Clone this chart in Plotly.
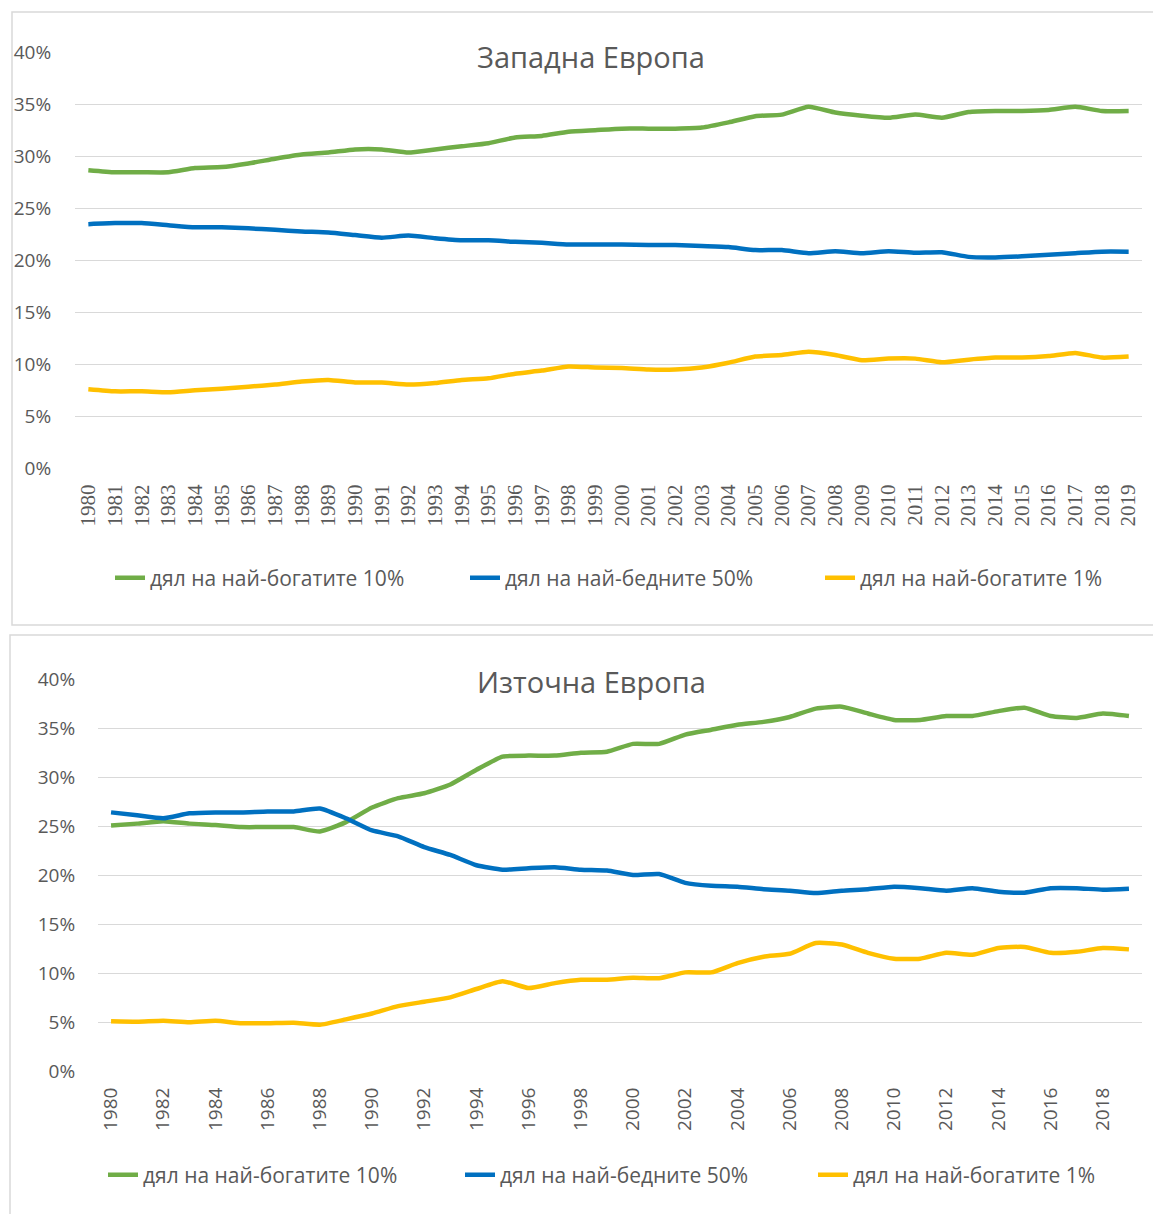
import plotly.graph_objects as go

# Reference image size; the page body adds an 8px margin, so the figure is
# drawn 8px smaller and all reference pixel positions are shifted by 8px.
W, H = 1161, 1214
OFF = 8
FW, FH = W - OFF, H - OFF

years = list(range(1980, 2020))

# Западна Европа (Western Europe), % of national income
west_top10 = [28.7, 28.5, 28.5, 28.5, 28.9, 29.0, 29.35, 29.8, 30.2, 30.4,
              30.7, 30.7, 30.4, 30.7, 31.0, 31.3, 31.85, 32.0, 32.4, 32.55,
              32.7, 32.7, 32.7, 32.8, 33.3, 33.9, 34.05, 34.8, 34.25, 33.95,
              33.75, 34.05, 33.75, 34.3, 34.4, 34.4, 34.5, 34.8, 34.4, 34.4]
west_bottom50 = [23.5, 23.6, 23.6, 23.4, 23.2, 23.2, 23.1, 22.95, 22.8, 22.7,
                 22.45, 22.2, 22.4, 22.15, 21.95, 21.95, 21.8, 21.7, 21.55, 21.55,
                 21.55, 21.5, 21.5, 21.4, 21.3, 21.0, 21.0, 20.7, 20.9, 20.7,
                 20.9, 20.75, 20.8, 20.35, 20.3, 20.4, 20.55, 20.7, 20.85, 20.85]
west_top1 = [7.6, 7.4, 7.4, 7.3, 7.5, 7.65, 7.85, 8.05, 8.35, 8.5,
             8.25, 8.25, 8.05, 8.2, 8.5, 8.65, 9.1, 9.4, 9.8, 9.7,
             9.65, 9.5, 9.5, 9.7, 10.15, 10.75, 10.9, 11.2, 10.9, 10.4,
             10.55, 10.55, 10.2, 10.45, 10.65, 10.65, 10.8, 11.1, 10.65, 10.75]

# Източна Европа (Eastern Europe)
east_top10 = [25.1, 25.3, 25.55, 25.3, 25.15, 24.95, 24.95, 24.95, 24.5, 25.45,
              26.95, 27.9, 28.4, 29.3, 30.8, 32.15, 32.25, 32.25, 32.55, 32.65,
              33.45, 33.45, 34.4, 34.9, 35.4, 35.7, 36.2, 37.05, 37.25, 36.55,
              35.9, 35.9, 36.3, 36.3, 36.8, 37.15, 36.3, 36.1, 36.55, 36.3]
east_bottom50 = [26.45, 26.15, 25.85, 26.35, 26.45, 26.45, 26.55, 26.55, 26.85, 25.85,
                 24.6, 24.0, 22.9, 22.1, 21.05, 20.6, 20.75, 20.85, 20.6, 20.5,
                 20.05, 20.15, 19.25, 18.95, 18.85, 18.6, 18.45, 18.2, 18.45, 18.6,
                 18.85, 18.7, 18.45, 18.7, 18.35, 18.25, 18.7, 18.7, 18.55, 18.65]
east_top1 = [5.1, 5.05, 5.15, 5.0, 5.15, 4.9, 4.9, 4.95, 4.75, 5.3,
             5.9, 6.65, 7.1, 7.55, 8.4, 9.2, 8.5, 9.0, 9.35, 9.35,
             9.55, 9.5, 10.1, 10.1, 11.05, 11.7, 12.0, 13.1, 12.95, 12.1,
             11.5, 11.5, 12.1, 11.9, 12.6, 12.7, 12.1, 12.2, 12.6, 12.45]

series_names = ["дял на най-богатите 10%", "дял на най-бедните 50%", "дял на най-богатите 1%"]
colors = ["#70AD47", "#0070C0", "#FFC000"]
titles = ["Западна Европа", "Източна Европа"]
y_ticks = [0, 5, 10, 15, 20, 25, 30, 35, 40]
y_ticktext = [f"{v}%" for v in y_ticks]

FONT = "Open Sans"
SERIF = "Liberation Serif"
GREY = "#595959"
GRID = "#d9d9d9"


def fx(px):
    return (px - OFF) / FW


def fy(py):
    return 1 - (py - OFF) / FH


fig = go.Figure()

panels = [
    dict(data=[west_top10, west_bottom50, west_top1], xa="x", ya="y",
         legends=["legend", "legend2", "legend3"], leg_x=[110, 465, 820], leg_y=578),
    dict(data=[east_top10, east_bottom50, east_top1], xa="x2", ya="y2",
         legends=["legend4", "legend5", "legend6"], leg_x=[103, 460, 813], leg_y=1175),
]

legend_layout = {}
for p in panels:
    for name, vals, col, lg, lx in zip(series_names, p["data"], colors, p["legends"], p["leg_x"]):
        fig.add_trace(go.Scatter(
            x=years, y=vals, name=name, mode="lines",
            line=dict(color=col, width=4.5, shape="spline", smoothing=0.5),
            xaxis=p["xa"], yaxis=p["ya"], legend=lg,
        ))
        legend_layout[lg] = dict(
            orientation="h", x=fx(lx), xanchor="left", y=fy(p["leg_y"]), yanchor="middle",
            font=dict(family=FONT, size=21, color=GREY), bgcolor="rgba(0,0,0,0)",
        )


def yaxis_def(top, bottom, anchor, standoff):
    return dict(
        domain=[fy(bottom), fy(top)], anchor=anchor,
        range=[-0.08, 40.08], tickmode="array", tickvals=y_ticks, ticktext=y_ticktext,
        showgrid=True, gridcolor=GRID, gridwidth=1, zeroline=False, showline=False,
        tickfont=dict(family=FONT, size=19, color=GREY),
        ticks="outside", ticklen=standoff, tickcolor="rgba(0,0,0,0)",
        fixedrange=True, automargin=False,
    )


def xaxis_def(left, right, anchor, dtick, font, size, standoff):
    return dict(
        domain=[fx(left), fx(right)], anchor=anchor,
        range=[1979.5, 2019.5], tick0=1980, dtick=dtick, showgrid=False, zeroline=False,
        showline=False, tickangle=-90,
        tickfont=dict(family=font, size=size, color=GREY),
        ticks="outside", ticklen=standoff, tickcolor="rgba(0,0,0,0)",
        fixedrange=True, automargin=False,
    )


fig.update_layout(
    width=FW, height=FH,
    margin=dict(l=0, r=0, t=0, b=0, autoexpand=False),
    paper_bgcolor="white", plot_bgcolor="white",
    font=dict(family=FONT, color=GREY),
    xaxis=xaxis_def(75, 1142, "y", 1, SERIF, 21, 6),
    yaxis=yaxis_def(52, 469, "x", 19),
    xaxis2=xaxis_def(98, 1142, "y2", 2, FONT, 19, 7),
    yaxis2=yaxis_def(679, 1072, "x2", 18),
    showlegend=True,
    **legend_layout,
)

# Panel borders
fig.add_shape(type="rect", xref="paper", yref="paper",
              x0=fx(12), x1=1.01, y0=fy(625), y1=fy(12),
              line=dict(color=GRID, width=1.5), layer="below")
fig.add_shape(type="rect", xref="paper", yref="paper",
              x0=fx(10), x1=1.01, y0=-0.01, y1=fy(635),
              line=dict(color=GRID, width=1.5), layer="below")

# Titles
for t, yc in zip(titles, [57, 681]):
    fig.add_annotation(text=t, xref="paper", yref="paper", x=fx(591), y=fy(yc),
                       xanchor="center", yanchor="middle", showarrow=False,
                       font=dict(family=FONT, size=29, color=GREY))

fig.write_html("out.html")
